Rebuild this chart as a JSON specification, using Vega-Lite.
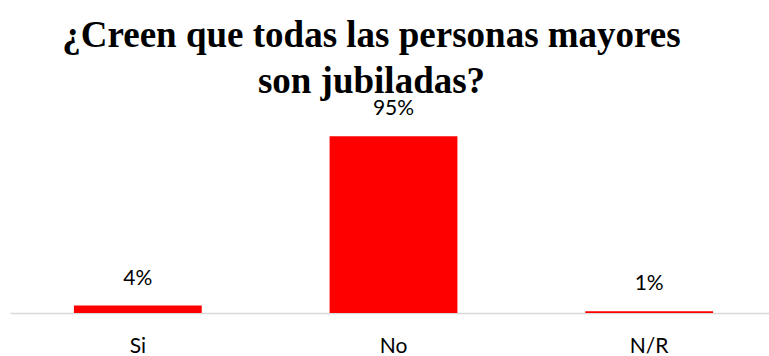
{
  "$schema": "https://vega.github.io/schema/vega-lite/v6.json",
  "autosize": "none",
  "width": 767,
  "height": 186,
  "padding": {"left": 10, "top": 127, "right": 0, "bottom": 43},
  "background": "white",
  "title": {
    "text": ["¿Creen que todas las personas mayores", "son jubiladas?"],
    "font": "Liberation Serif",
    "fontSize": 37,
    "fontWeight": "bold",
    "color": "black",
    "anchor": "middle",
    "offset": -3,
    "lineHeight": 46,
    "dx": -22
  },
  "data": {
    "values": [
      {"respuesta": "Si", "valor": 0.04},
      {"respuesta": "No", "valor": 0.95},
      {"respuesta": "N/R", "valor": 0.01}
    ]
  },
  "encoding": {
    "x": {
      "field": "respuesta",
      "type": "nominal",
      "sort": null,
      "scale": {"paddingInner": 0.5, "paddingOuter": 0.25},
      "axis": {
        "title": null,
        "labelAngle": 0,
        "labelFont": "Lato",
        "labelFontSize": 21,
        "labelColor": "black",
        "labelPadding": 22,
        "ticks": false,
        "domainColor": "#d9d9d9",
        "domainWidth": 1.5
      }
    },
    "y": {
      "field": "valor",
      "type": "quantitative",
      "scale": {"domain": [0, 1]},
      "axis": null
    }
  },
  "layer": [
    {"mark": {"type": "bar", "color": "#ff0000"}},
    {
      "mark": {"type": "text", "dy": -27, "baseline": "middle", "font": "Lato", "fontSize": 21, "color": "black"},
      "encoding": {"text": {"field": "valor", "format": ".0%"}}
    }
  ],
  "config": {"view": {"stroke": null}}
}
